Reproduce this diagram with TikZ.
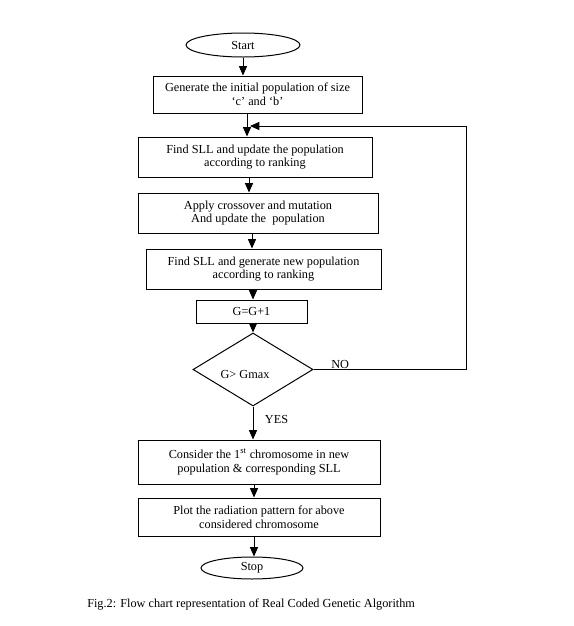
\documentclass[tikz,border=0pt]{standalone}
\usepackage{fontspec}
\setmainfont{Liberation Serif}
\usetikzlibrary{shapes.geometric,arrows.meta}
\begin{document}
\begin{tikzpicture}[x=0.75pt,y=-0.75pt,
  every node/.style={font=\fontsize{9.2}{10.2}\selectfont},
  box/.style={draw, line width=0.75pt, rectangle, inner sep=0pt, align=center},
  term/.style={draw, line width=0.75pt, ellipse, inner sep=0pt},
  decision/.style={draw, line width=0.75pt, diamond, inner sep=0pt},
  arr/.style={line width=0.75pt, -{Triangle[length=7pt,width=6pt]}},
  ln/.style={line width=0.75pt}]
\useasboundingbox[fill=white] (0,0) rectangle (574,626);

\node[term, minimum width=85.5pt, minimum height=18pt] (start) at (243,45) {Start};
\node[box, minimum width=156.75pt, minimum height=27.75pt] (b1) at (257.5,94.5)
  {Generate the initial population of size\\`c' and `b'};
\node[box, minimum width=175.5pt, minimum height=30pt] (b2) at (255,157)
  {Find SLL and update the population\\according to ranking};
\node[box, minimum width=180pt, minimum height=30pt] (b3) at (258,213)
  {Apply crossover and mutation\\And update the\ \ population};
\node[box, minimum width=176.25pt, minimum height=30pt] (b4) at (263.5,269)
  {Find SLL and generate new population\\according to ranking};
\node[box, minimum width=83.25pt, minimum height=17.25pt] (b5) at (251.5,311.5) {G=G+1};
\node[decision, minimum width=90pt, minimum height=54.75pt] (d) at (253,369.5) {};
\node (dtext) at (245,374) {G> Gmax};
\node[box, minimum width=181.5pt, minimum height=33pt] (b6) at (259,462)
  {Consider the 1\textsuperscript{st} chromosome in new\\population \& corresponding SLL};
\node[box, minimum width=181.5pt, minimum height=28.5pt] (b7) at (259,517)
  {Plot the radiation pattern for above\\considered chromosome};
\node[term, minimum width=76.5pt, minimum height=16.5pt] (stop) at (252,568) {Stop};

\node[anchor=south west, inner sep=0pt] (no) at (331,368.5) {NO};
\node (yes) at (276.5,419.5) {YES};
\node[anchor=west, inner sep=0pt] (cap) at (87,604)
  {Fig.2: Flow chart representation of Real Coded Genetic Algorithm};

\coordinate (x1) at (247,0);
\coordinate (x2) at (249,0);
\coordinate (x3) at (252,0);
\coordinate (x4) at (253,0);
\coordinate (x5) at (254,0);
\coordinate (rc) at (466,126);
\coordinate (jn) at (250,126);

\draw[arr] (start.south) -- (b1.north -| start.south);
\draw[arr] (b1.south -| x1) -- (b2.north -| x1);
\draw[arr] (b2.south -| x2) -- (b3.north -| x2);
\draw[arr] (b3.south -| x3) -- (b4.north -| x3);
\draw[arr] (b4.south -| x4) -- (b5.north -| x4);
\draw[arr] (b5.south -| x4) -- (d.north);
\draw[arr] (d.south) -- (b6.north -| d.south);
\draw[arr] (b6.south -| x5) -- (b7.north -| x5);
\draw[arr] (b7.south -| x5) -- (stop.north -| x5);
\draw[arr] (d.east) -| (rc) -- (jn);
\end{tikzpicture}
\end{document}
